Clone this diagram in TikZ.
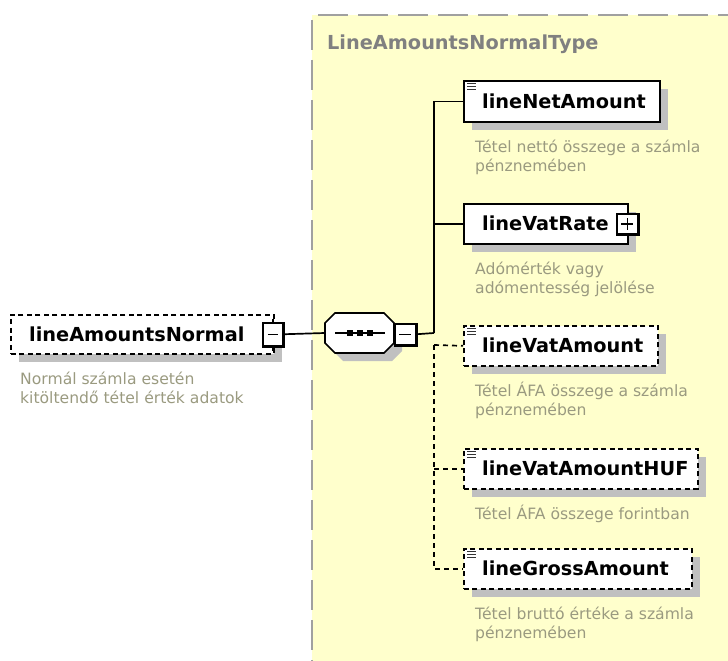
\documentclass[tikz,border=0pt]{standalone}
\usepackage{fontspec}
\setmainfont{DejaVu Sans}
\usetikzlibrary{shadows}
\definecolor{ybg}{HTML}{FFFFCC}
\definecolor{ybd}{HTML}{A0A0A0}
\definecolor{shd}{HTML}{C0C0C0}
\definecolor{dsc}{HTML}{9A9A80}
\definecolor{ttl}{HTML}{808080}
\tikzset{
  elem/.style={draw=black, line width=1.7pt, fill=white, inner sep=0, anchor=north west,
    drop shadow={shadow xshift=8pt, shadow yshift=-8pt, fill=shd, opacity=1}},
  optelem/.style={elem, dash pattern=on 5pt off 3.5pt},
  nm/.style={font=\fontsize{19.3}{23}\selectfont\bfseries, anchor=base west, inner sep=0, text=black},
  dsctext/.style={font=\fontsize{15.6}{19.5}\selectfont, anchor=base west, inner sep=0, text=dsc},
  btn/.style={draw=black, line width=1.5pt, fill=white, minimum width=20, minimum height=22, inner sep=0, anchor=north west},
  conn/.style={line width=1.7pt, black},
  dconn/.style={conn, dash pattern=on 5pt off 4pt},
  icon/.style={line width=1pt, black!80},
}
\begin{document}
\begin{tikzpicture}[x=1pt, y=-1pt]
\useasboundingbox (0,0) rectangle (728,661);
\clip (0,0) rectangle (728,661);
% type region
\fill[ybg] (312,15) rectangle (740,670);
\draw[ybd, line width=2.2pt, dash pattern=on 30pt off 10pt] (318,15) -- (740,15);
\draw[ybd, line width=2.2pt, dash pattern=on 30pt off 10pt] (312,20) -- (312,670);
\node[font=\fontsize{19.3}{23}\selectfont\bfseries, text=ttl, anchor=base west, inner sep=0] (title) at (327,50) {LineAmountsNormalType};

% root element
\node[optelem, minimum width=263, minimum height=39] (amn) at (10,314) {};
\node[nm] (amnl) at (29,341) {lineAmountsNormal};
\node[btn, minimum height=23] (amnb) at (262,322) {};
\draw[line width=3pt] (amnb.north east) -- (amnb.south east) -- (amnb.south west);
\draw[line width=1.5pt] ([xshift=-5]amnb.center) -- ([xshift=5]amnb.center);
\draw[line width=1.5pt] (amnb.north) -- ++(0,-3);
\draw[line width=1.5pt] (amnb.south) -- ++(0,4);
\node[dsctext] (amnd1) at (20,384) {Normál számla esetén};
\node[dsctext] (amnd2) at (20,403.5) {kitöltendő tétel érték adatok};

% compositor (sequence)
\fill[shd] (343,321) -- (392,321) -- (402,331) -- (402,351) -- (392,361) -- (343,361) -- (333,351) -- (333,331) -- cycle;
\node[minimum width=69, minimum height=40, inner sep=0] (comp) at (359.5,333) {};
\draw[line width=1.7pt, fill=white] (335,313) -- (384,313) -- (394,323) -- (394,343) -- (384,353) -- (335,353) -- (325,343) -- (325,323) -- cycle;
\draw[line width=1.7pt] (335,333) -- (385,333);
\foreach \dx in {350,360,370} \fill (\dx-3,330) rectangle (\dx+3,336);
\node[btn, minimum width=21, minimum height=21] (compb) at (394,323) {};
\draw[line width=3pt] (compb.north east) -- (compb.south east) -- (compb.south west);
\draw[line width=1.5pt] ([xshift=-6]compb.center) -- ([xshift=6]compb.center);

% children
\node[elem, minimum width=196, minimum height=41] (net) at (463,80) {};
\node[nm] (netl) at (482,108) {lineNetAmount};
\node[dsctext] (netd1) at (475,152) {Tétel nettó összege a számla};
\node[dsctext] (netd2) at (475,171.5) {pénznemében};

\node[elem, minimum width=164, minimum height=40] (rate) at (463,203) {};
\node[nm] (ratel) at (482,230) {lineVatRate};
\node[btn, minimum width=21, minimum height=20] (rateb) at (616,213) {};
\draw[line width=3pt] (rateb.north east) -- (rateb.south east) -- (rateb.south west);
\draw[line width=1.5pt] ([xshift=-6]rateb.center) -- ([xshift=6]rateb.center);
\draw[line width=1.5pt] ([yshift=-6]rateb.center) -- ([yshift=6]rateb.center);
\node[dsctext] (rated1) at (475,274) {Adómérték vagy};
\node[dsctext] (rated2) at (475,293.5) {adómentesség jelölése};

\node[optelem, minimum width=194, minimum height=40] (vamt) at (463,325) {};
\node[nm] (vamtl) at (482,352) {lineVatAmount};
\node[dsctext] (vamtd1) at (475,396) {Tétel ÁFA összege a számla};
\node[dsctext] (vamtd2) at (475,415.5) {pénznemében};

\node[optelem, minimum width=234, minimum height=40] (huf) at (463,448) {};
\node[nm] (hufl) at (482,475) {lineVatAmountHUF};
\node[dsctext] (hufd1) at (475,519) {Tétel ÁFA összege forintban};

\node[optelem, minimum width=228, minimum height=40] (gross) at (463,548) {};
\node[nm] (grossl) at (482,575) {lineGrossAmount};
\node[dsctext] (grossd1) at (475,619) {Tétel bruttó értéke a számla};
\node[dsctext] (grossd2) at (475,638.5) {pénznemében};

% element icons
\foreach \n in {net,vamt,huf,gross}{
  \foreach \dy in {3,6,9}
    \draw[icon] ([shift={(4,\dy)}]\n.north west) -- ++(9,0);
}

% connectors
\coordinate (j) at (434,333);
\coordinate (jd) at (434,345);
\draw[conn] (amnb.east) -- (comp.west);
\draw[conn] (compb.east) -- (j);
\draw[conn] (j) |- (net.west);
\draw[conn] (j |- rate.west) -- (rate.west);
\draw[dconn] (jd) -- (vamt.west);
\draw[dconn] (jd) |- (gross.west);
\draw[dconn] (jd |- huf.west) -- (huf.west);
\end{tikzpicture}
\end{document}
